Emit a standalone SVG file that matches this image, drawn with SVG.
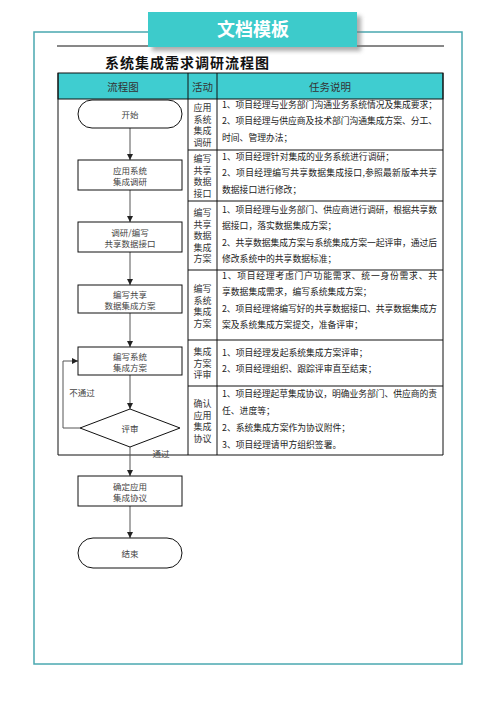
<svg xmlns="http://www.w3.org/2000/svg" width="496" height="702" viewBox="0 0 496 702">
<defs>
<filter id="sh" x="-10%" y="-40%" width="130%" height="200%"><feGaussianBlur stdDeviation="2"/></filter>
<marker id="ah" markerWidth="6" markerHeight="6" refX="6" refY="3" orient="auto" markerUnits="userSpaceOnUse"><path d="M0,0 L6,3 L0,6 Z" fill="#222"/></marker>
</defs>
<style>
.t{font-family:"Noto Sans CJK SC","Noto Sans",sans-serif;dominant-baseline:central}
.task{font-size:8.8px;fill:#222}
.act{font-size:9px;fill:#333;text-anchor:middle}
.node{font-size:8.5px;fill:#444;text-anchor:middle}
.hdr{font-size:10.5px;fill:#333;text-anchor:middle}
.box{fill:#fff;stroke:#111;stroke-width:1}
.conn{stroke:#555;stroke-width:1;fill:none}
.grid{stroke:#111;stroke-width:1;fill:none}
</style>
<rect x="0" y="0" width="496" height="702" fill="#fff"/>
<rect x="34" y="32" width="428" height="632" fill="none" stroke="#4aa8b0" stroke-width="1.5"/>
<line x1="57" y1="46" x2="444" y2="46" stroke="#111" stroke-width="1"/>
<g id="banner">
<rect x="152" y="16" width="209" height="35" fill="#777" opacity="0.6" filter="url(#sh)"/>
<rect x="148" y="12" width="209" height="35" fill="#3dcbcb"/>
<text x="253" y="36" class="t" style="dominant-baseline:auto" font-size="18" font-weight="bold" fill="#fff" text-anchor="middle">文档模板</text>
</g>
<text x="105" y="62" class="t" font-size="14" font-weight="bold" fill="#111" letter-spacing="1">系统集成需求调研流程图</text>
<g id="table">
<rect x="58" y="73" width="385" height="26" fill="#3fcdd0" stroke="#111"/>
<text x="123" y="86" class="t hdr">流程图</text>
<text x="202.5" y="86" class="t hdr">活动</text>
<text x="330" y="86" class="t hdr">任务说明</text>
<path class="grid" d="M58,73 V455 M188,73 V455 M217,73 V455 M443,73 V455 M58,455 H443 M188,150 H443 M188,201 H443 M188,270 H443 M188,340 H443 M188,386 H443"/>
</g>
<g id="activities">
<text class="t act" x="202.5"><tspan x="202.5" y="107">应用</tspan><tspan x="202.5" y="118.5">系统</tspan><tspan x="202.5" y="130">集成</tspan><tspan x="202.5" y="141.5">调研</tspan></text>
<text class="t act" x="202.5"><tspan x="202.5" y="158">编写</tspan><tspan x="202.5" y="169.5">共享</tspan><tspan x="202.5" y="181">数据</tspan><tspan x="202.5" y="192.5">接口</tspan></text>
<text class="t act" x="202.5"><tspan x="202.5" y="212">编写</tspan><tspan x="202.5" y="223.5">共享</tspan><tspan x="202.5" y="235">数据</tspan><tspan x="202.5" y="246.5">集成</tspan><tspan x="202.5" y="258">方案</tspan></text>
<text class="t act" x="202.5"><tspan x="202.5" y="288">编写</tspan><tspan x="202.5" y="299.5">系统</tspan><tspan x="202.5" y="311">集成</tspan><tspan x="202.5" y="322.5">方案</tspan></text>
<text class="t act" x="202.5"><tspan x="202.5" y="351">集成</tspan><tspan x="202.5" y="362.5">方案</tspan><tspan x="202.5" y="374">评审</tspan></text>
<text class="t act" x="202.5"><tspan x="202.5" y="403">确认</tspan><tspan x="202.5" y="414.5">应用</tspan><tspan x="202.5" y="426">集成</tspan><tspan x="202.5" y="437.5">协议</tspan></text>
</g>
<g id="tasks">
<text class="t task" x="222" y="104" textLength="215" lengthAdjust="spacing">1、项目经理与业务部门沟通业务系统情况及集成要求；</text>
<text class="t task" x="222" y="120.5" textLength="215" lengthAdjust="spacing">2、项目经理与供应商及技术部门沟通集成方案、分工、</text>
<text class="t task" x="222" y="137">时间、管理办法；</text>
<text class="t task" x="222" y="156">1、项目经理针对集成的业务系统进行调研；</text>
<text class="t task" x="222" y="172.5" textLength="215" lengthAdjust="spacing">2、项目经理编写共享数据集成接口,参照最新版本共享</text>
<text class="t task" x="222" y="189">数据接口进行修改；</text>
<text class="t task" x="222" y="209" textLength="215" lengthAdjust="spacing">1、项目经理与业务部门、供应商进行调研，根据共享数</text>
<text class="t task" x="222" y="225.5">据接口，落实数据集成方案；</text>
<text class="t task" x="222" y="242" textLength="215" lengthAdjust="spacing">2、共享数据集成方案与系统集成方案一起评审，通过后</text>
<text class="t task" x="222" y="258.5">修改系统中的共享数据标准；</text>
<text class="t task" x="222" y="275" textLength="215" lengthAdjust="spacing">1、项目经理考虑门户功能需求、统一身份需求、共</text>
<text class="t task" x="222" y="291.5">享数据集成需求，编写系统集成方案；</text>
<text class="t task" x="222" y="308" textLength="215" lengthAdjust="spacing">2、项目经理将编写好的共享数据接口、共享数据集成方</text>
<text class="t task" x="222" y="324.5">案及系统集成方案提交，准备评审；</text>
<text class="t task" x="222" y="352">1、项目经理发起系统集成方案评审；</text>
<text class="t task" x="222" y="368">2、项目经理组织、跟踪评审直至结束；</text>
<text class="t task" x="222" y="393" textLength="215" lengthAdjust="spacing">1、项目经理起草集成协议，明确业务部门、供应商的责</text>
<text class="t task" x="222" y="410">任、进度等；</text>
<text class="t task" x="222" y="427">2、系统集成方案作为协议附件；</text>
<text class="t task" x="222" y="444">3、项目经理请甲方组织签署。</text>
</g>
<g id="connectors">
<path class="conn" marker-end="url(#ah)" d="M130,128 V160"/>
<path class="conn" marker-end="url(#ah)" d="M130,190 V222"/>
<path class="conn" marker-end="url(#ah)" d="M130,252 V285"/>
<path class="conn" marker-end="url(#ah)" d="M130,313 V347"/>
<path class="conn" marker-end="url(#ah)" d="M130,375 V409"/>
<path class="conn" marker-end="url(#ah)" d="M130,447 V476"/>
<path class="conn" marker-end="url(#ah)" d="M130,506 V538"/>
<path class="conn" stroke="#888" marker-end="url(#ah)" d="M80,428 H63 V361 H78"/>
<text class="t node" x="82" y="392">不通过</text>
<text class="t node" x="161" y="453">通过</text>
</g>
<g id="start"><rect class="box" x="78" y="100" width="104" height="28" rx="14" stroke="#333"/><text class="t node" x="130" y="114">开始</text></g>
<g id="n1"><rect class="box" x="78" y="160" width="104" height="30"/><text class="t node" x="130"><tspan x="130" y="169.5">应用系统</tspan><tspan x="130" y="180.5">集成调研</tspan></text></g>
<g id="n2"><rect class="box" x="78" y="222" width="104" height="30"/><text class="t node" x="130"><tspan x="130" y="231.5">调研/编写</tspan><tspan x="130" y="242.5">共享数据接口</tspan></text></g>
<g id="n3"><rect class="box" x="78" y="285" width="104" height="28"/><text class="t node" x="130"><tspan x="130" y="293.5">编写共享</tspan><tspan x="130" y="304.5">数据集成方案</tspan></text></g>
<g id="n4"><rect class="box" x="78" y="347" width="104" height="28"/><text class="t node" x="130"><tspan x="130" y="355.5">编写系统</tspan><tspan x="130" y="366.5">集成方案</tspan></text></g>
<g id="review"><path class="box" d="M80,428 L130,409 L180,428 L130,447 Z" stroke="#333"/><text class="t node" x="130" y="428">评审</text></g>
<g id="n5"><rect class="box" x="78" y="476" width="104" height="30"/><text class="t node" x="130"><tspan x="130" y="485.5">确定应用</tspan><tspan x="130" y="496.5">集成协议</tspan></text></g>
<g id="end"><rect class="box" x="78" y="538" width="104" height="30" rx="15" stroke="#333"/><text class="t node" x="130" y="553">结束</text></g>
</svg>
